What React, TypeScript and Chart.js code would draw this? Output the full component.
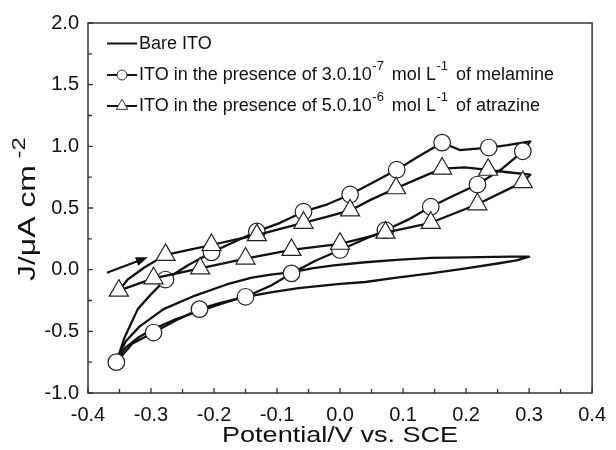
import React, { useEffect, useRef } from "react";
import { Chart, registerables } from "chart.js";

Chart.register(...registerables);

const FONT = '"Liberation Sans", Arial, Helvetica, sans-serif';

// Axis ranges
const X_MIN = -0.4;
const X_MAX = 0.4;
const X_STEP = 0.1;
const Y_MIN = -1.0;
const Y_MAX = 2.0;
const Y_STEP = 0.5;

// Bare ITO (full cyclic loop)
const bareX = [-0.355, -0.34, -0.32, -0.3, -0.26, -0.22, -0.19, -0.16, -0.11, -0.066, 0.0, 0.04, 0.09, 0.144, 0.2, 0.25, 0.28, 0.3,
  0.27, 0.2, 0.144, 0.09, 0.04, -0.01, -0.045, -0.075, -0.11, -0.14, -0.18, -0.23, -0.28, -0.318, -0.34, -0.355];
const bareY = [-0.73, -0.63, -0.55, -0.49, -0.4, -0.33, -0.28, -0.23, -0.185, -0.15, -0.115, -0.1, -0.065, -0.03, 0.01, 0.05, 0.075, 0.105,
  0.105, 0.1, 0.095, 0.08, 0.06, 0.035, 0.01, -0.02, -0.04, -0.065, -0.12, -0.21, -0.32, -0.46, -0.58, -0.73];

// Melamine curve
const melLineX = [-0.355, -0.33, -0.296, -0.26, -0.223, -0.19, -0.15, -0.11, -0.077, -0.04, 0.0, 0.036, 0.072, 0.11, 0.144, 0.18, 0.218, 0.255, 0.29, 0.302,
  0.266, 0.236, 0.19, 0.162, 0.125, 0.09, 0.05, 0.016, -0.02, -0.058, -0.095, -0.132, -0.17, -0.204, -0.24, -0.277, -0.3, -0.321, -0.342, -0.355];
const melLineY = [-0.75, -0.6, -0.51, -0.41, -0.32, -0.27, -0.22, -0.13, -0.03, 0.07, 0.16, 0.24, 0.32, 0.41, 0.51, 0.6, 0.69, 0.81, 0.96, 1.04,
  1.01, 0.99, 0.97, 1.03, 0.92, 0.81, 0.7, 0.61, 0.53, 0.47, 0.38, 0.31, 0.22, 0.14, 0.04, -0.08, -0.2, -0.32, -0.55, -0.75];
// Melamine markers
const melMarkX = [-0.355, -0.296, -0.223, -0.15, -0.077, 0.0, 0.072, 0.144, 0.218, 0.29, 0.236, 0.162, 0.09, 0.016, -0.058, -0.132, -0.204, -0.277];
const melMarkY = [-0.75, -0.51, -0.32, -0.22, -0.03, 0.16, 0.32, 0.51, 0.69, 0.96, 0.99, 1.03, 0.81, 0.61, 0.47, 0.31, 0.14, -0.08];

// Atrazine curve
const atrLineX = [-0.351, -0.296, -0.222, -0.15, -0.077, 0.0, 0.072, 0.144, 0.218, 0.29, 0.302,
  0.266, 0.235, 0.198, 0.162, 0.125, 0.089, 0.05, 0.016, -0.02, -0.058, -0.095, -0.132, -0.17, -0.204, -0.24, -0.277, -0.31, -0.337, -0.351];
const atrLineY = [-0.17, -0.07, 0.01, 0.09, 0.16, 0.21, 0.3, 0.38, 0.53, 0.71, 0.77,
  0.79, 0.81, 0.83, 0.82, 0.74, 0.66, 0.57, 0.48, 0.43, 0.38, 0.33, 0.28, 0.24, 0.2, 0.16, 0.12, 0.02, -0.08, -0.17];
// Atrazine markers
const atrMarkX = [-0.351, -0.296, -0.222, -0.15, -0.077, 0.0, 0.072, 0.144, 0.218, 0.29, 0.235, 0.162, 0.089, 0.016, -0.058, -0.132, -0.204, -0.277];
const atrMarkY = [-0.17, -0.07, 0.01, 0.09, 0.16, 0.21, 0.3, 0.38, 0.53, 0.71, 0.81, 0.82, 0.66, 0.48, 0.38, 0.28, 0.2, 0.12];

// Scan direction arrow (start, end)
const arrowX = [-0.37, -0.305];
const arrowY = [-0.025, 0.1];

type Seg = [string, boolean];
const legendBare: Seg[] = [["Bare ITO", false]];
const legendMel: Seg[] = [["ITO in the presence of 3.0.10", false], ["-7", true], [" mol L", false], ["-1", true], [" of melamine", false]];
const legendAtr: Seg[] = [["ITO in the presence of 5.0.10", false], ["-6", true], [" mol L", false], ["-1", true], [" of atrazine", false]];
const yTitle: Seg[] = [["J/\u03bcA cm", false], ["-2", true]];
const xTitle = "Potential/V vs. SCE";

const toPts = (xs: number[], ys: number[]) => xs.map((x, i) => ({ x, y: ys[i] }));
const fmt = (v: any) => {
  const n = Math.abs(+v) < 1e-9 ? 0 : +v;
  return n.toFixed(1);
};

function drawRich(ctx: CanvasRenderingContext2D, segs: Seg[], size: number, supSize: number, supRaise: number, supPre = 0, supPost = 0) {
  let cx = 0;
  for (const [t, sup] of segs) {
    ctx.font = `${sup ? supSize : size}px ${FONT}`;
    if (sup) cx += supPre;
    ctx.fillText(t, cx, sup ? -supRaise : 0);
    cx += ctx.measureText(t).width;
    if (sup) cx += supPost;
  }
}

const overlay = {
  id: "overlay",
  afterDraw(chart: any) {
    const { ctx, chartArea: a, scales } = chart;
    const xs = scales.x;
    const ys = scales.y;
    ctx.save();
    // frame
    ctx.strokeStyle = "#333";
    ctx.lineWidth = 1.5;
    ctx.strokeRect(a.left, a.top, a.right - a.left, a.bottom - a.top);

    // inward ticks (major + minor)
    ctx.lineWidth = 1.3;
    ctx.beginPath();
    const xv = xs.ticks.map((t: any) => t.value);
    xv.forEach((v: number, i: number) => {
      const p = xs.getPixelForValue(v);
      ctx.moveTo(p, a.bottom);
      ctx.lineTo(p, a.bottom - 5);
      if (i < xv.length - 1) {
        const m = xs.getPixelForValue((v + xv[i + 1]) / 2);
        ctx.moveTo(m, a.bottom);
        ctx.lineTo(m, a.bottom - 4);
      }
    });
    const yv = ys.ticks.map((t: any) => t.value);
    yv.forEach((v: number, i: number) => {
      const p = ys.getPixelForValue(v);
      ctx.moveTo(a.left, p);
      ctx.lineTo(a.left + 5, p);
      if (i < yv.length - 1) {
        const m = ys.getPixelForValue((v + yv[i + 1]) / 2);
        ctx.moveTo(a.left, m);
        ctx.lineTo(a.left + 4, m);
      }
    });
    ctx.stroke();

    // arrow
    const x0 = xs.getPixelForValue(arrowX[0]);
    const y0 = ys.getPixelForValue(arrowY[0]);
    const x1 = xs.getPixelForValue(arrowX[1]);
    const y1 = ys.getPixelForValue(arrowY[1]);
    const ang = Math.atan2(y1 - y0, x1 - x0);
    const hl = 12, hw = 4.5;
    ctx.strokeStyle = "#111";
    ctx.fillStyle = "#111";
    ctx.lineWidth = 2;
    ctx.beginPath();
    ctx.moveTo(x0, y0);
    ctx.lineTo(x1 - Math.cos(ang) * hl * 0.7, y1 - Math.sin(ang) * hl * 0.7);
    ctx.stroke();
    ctx.beginPath();
    ctx.moveTo(x1, y1);
    ctx.lineTo(x1 - Math.cos(ang) * hl + Math.sin(ang) * hw, y1 - Math.sin(ang) * hl - Math.cos(ang) * hw);
    ctx.lineTo(x1 - Math.cos(ang) * hl - Math.sin(ang) * hw, y1 - Math.sin(ang) * hl + Math.cos(ang) * hw);
    ctx.closePath();
    ctx.fill();

    // legend
    const lx0 = a.left + 19;
    const lx1 = a.left + 49;
    const lcx = (lx0 + lx1) / 2;
    const tx = a.left + 51;
    const rows = [a.top + 25.5, a.top + 57, a.top + 88];
    const legends = [legendBare, legendMel, legendAtr];
    ctx.textBaseline = "alphabetic";
    ctx.textAlign = "left";
    legends.forEach((segs, i) => {
      const base = rows[i];
      const ly = base - 5;
      ctx.strokeStyle = "#111";
      ctx.lineWidth = 2;
      ctx.beginPath();
      ctx.moveTo(lx0, ly);
      ctx.lineTo(lx1, ly);
      ctx.stroke();
      ctx.lineWidth = 1;
      ctx.strokeStyle = "#333";
      ctx.fillStyle = "#fff";
      if (i === 1) {
        ctx.beginPath();
        ctx.arc(lcx, ly, 5, 0, Math.PI * 2);
        ctx.fill();
        ctx.stroke();
      } else if (i === 2) {
        const r = 6.7;
        ctx.beginPath();
        ctx.moveTo(lcx, ly - r);
        ctx.lineTo(lcx + r * Math.sin((2 * Math.PI) / 3), ly - r * Math.cos((2 * Math.PI) / 3));
        ctx.lineTo(lcx - r * Math.sin((2 * Math.PI) / 3), ly - r * Math.cos((2 * Math.PI) / 3));
        ctx.closePath();
        ctx.fill();
        ctx.stroke();
      }
      ctx.fillStyle = "#111";
      ctx.save();
      ctx.translate(tx, base);
      drawRich(ctx, segs, 18, 13, 10, 0.5, 3);
      ctx.restore();
    });

    // y title (rotated, stretched along text)
    ctx.save();
    ctx.fillStyle = "#111";
    ctx.translate(35, 281);
    ctx.rotate(-Math.PI / 2);
    ctx.scale(1.33, 1);
    drawRich(ctx, yTitle, 24, 18, 10, 5, 0);
    ctx.restore();

    // x title
    ctx.save();
    ctx.fillStyle = "#111";
    ctx.font = `22px ${FONT}`;
    ctx.textAlign = "center";
    ctx.translate((a.left + a.right) / 2, 442);
    ctx.scale(1.23, 1);
    ctx.fillText(xTitle, 0, 0);
    ctx.restore();

    ctx.restore();
  },
};

export default function App() {
  const ref = useRef<HTMLCanvasElement | null>(null);
  useEffect(() => {
    if (!ref.current) return;
    const tickFont = { size: 20, family: FONT };
    const chart = new Chart(ref.current, {
      type: "scatter",
      data: {
        datasets: [
          {
            label: "atrMarks",
            data: toPts(atrMarkX, atrMarkY),
            showLine: false,
            pointStyle: "triangle",
            pointRadius: 11,
            pointBackgroundColor: "#fff",
            pointBorderColor: "#222",
            pointBorderWidth: 1.2,
            order: 0,
          },
          {
            label: "atrLine",
            data: toPts(atrLineX, atrLineY),
            showLine: true,
            pointRadius: 0,
            borderColor: "#111",
            borderWidth: 2.3,
            borderJoinStyle: "round",
            tension: 0,
            order: 1,
          },
          {
            label: "melMarks",
            data: toPts(melMarkX, melMarkY),
            showLine: false,
            pointStyle: "circle",
            pointRadius: 8.3,
            pointBackgroundColor: "#fff",
            pointBorderColor: "#222",
            pointBorderWidth: 1.2,
            order: 2,
          },
          {
            label: "melLine",
            data: toPts(melLineX, melLineY),
            showLine: true,
            pointRadius: 0,
            borderColor: "#111",
            borderWidth: 2.3,
            borderJoinStyle: "round",
            tension: 0,
            order: 3,
          },
          {
            label: "bare",
            data: toPts(bareX, bareY),
            showLine: true,
            pointRadius: 0,
            borderColor: "#111",
            borderWidth: 2.3,
            borderJoinStyle: "round",
            tension: 0,
            order: 4,
          },
        ] as any,
      },
      options: {
        animation: false,
        responsive: false,
        maintainAspectRatio: false,
        devicePixelRatio: 1,
        layout: { padding: { top: 23, right: 21, left: 0, bottom: 0 } },
        plugins: { legend: { display: false }, tooltip: { enabled: false } },
        scales: {
          x: {
            type: "linear",
            min: X_MIN,
            max: X_MAX,
            ticks: { stepSize: X_STEP, font: tickFont, color: "#111", padding: 10, callback: fmt, maxRotation: 0, autoSkip: false },
            grid: { display: false, drawTicks: false },
            border: { display: false },
            afterFit: (s: any) => { s.height = 57; },
          },
          y: {
            type: "linear",
            min: Y_MIN,
            max: Y_MAX,
            ticks: { stepSize: Y_STEP, font: tickFont, color: "#111", padding: 9, callback: fmt, autoSkip: false },
            grid: { display: false, drawTicks: false },
            border: { display: false },
            afterFit: (s: any) => { s.width = 88; },
          },
        },
      } as any,
      plugins: [overlay],
    });
    return () => chart.destroy();
  }, []);
  return (
    <div style={{ position: "absolute", left: 0, top: 0, width: 616, height: 450, background: "#fff" }}>
      <canvas ref={ref} width={616} height={450} style={{ width: 616, height: 450, display: "block" }} />
    </div>
  );
}
